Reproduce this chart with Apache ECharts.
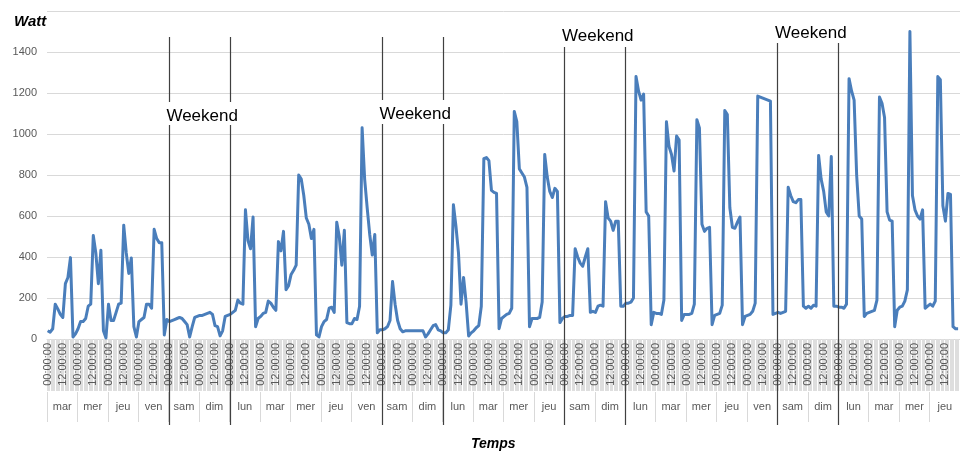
<!DOCTYPE html>
<html>
<head>
<meta charset="utf-8">
<script src="https://cdn.jsdelivr.net/npm/echarts@6/dist/echarts.min.js"></script>
<style>
  html, body { margin: 0; padding: 0; background: #fff; }
  #main { width: 960px; height: 453px; }
</style>
</head>
<body>
<div id="main"></div>
<script>
// day names of the lower axis row
var days = ['mar', 'mer', 'jeu', 'ven', 'sam', 'dim', 'lun',
            'mar', 'mer', 'jeu', 'ven', 'sam', 'dim', 'lun',
            'mar', 'mer', 'jeu', 'sam', 'dim', 'lun',
            'mar', 'mer', 'jeu', 'ven', 'sam', 'dim', 'lun',
            'mar', 'mer', 'jeu']

// watts read every 2 hours (00h, 02h ... 22h), one line per day
var watts = [
  40, 33, 50, 170, 147, 120, 105, 270, 300, 397, 10, 25,
  50, 85, 85, 100, 160, 170, 505, 420, 270, 433, 40, 5,
  170, 90, 90, 130, 170, 175, 555, 420, 320, 395, 60, 10,
  85, 95, 105, 170, 170, 150, 535, 490, 470, 470, 20, 95,
  85, 90, 95, 100, 105, 100, 85, 70, 10, 60, 105, 110,
  115, 115, 120, 125, 130, 120, 65, 60, 15, 40, 110, 115,
  120, 130, 140, 190, 175, 170, 630, 480, 440, 595, 60, 100,
  110, 125, 130, 185, 175, 155, 140, 475, 430, 525, 240, 260,
  315, 335, 360, 800, 780, 700, 590, 560, 490, 535, 20, 10,
  60, 85, 95, 150, 155, 130, 570, 500, 360, 530, 80, 75,
  75, 100, 95, 160, 1030, 780, 640, 510, 410, 510, 30, 45,
  45, 50, 60, 90, 280, 170, 90, 50, 35, 40, 40, 40,
  40, 40, 40, 40, 40, 10, 25, 45, 65, 70, 45, 40,
  30, 30, 45, 165, 655, 550, 420, 170, 300, 180, 15, 30,
  40, 55, 65, 160, 880, 885, 870, 725, 715, 710, 50, 100,
  110, 120, 125, 150, 1110, 1060, 830, 810, 790, 740, 60, 100,
  100, 100, 105, 180, 900, 790, 720, 690, 735, 720, 80, 100,
  110, 110, 115, 115, 440, 400, 370, 355, 400, 440, 130, 135,
  130, 160, 165, 160, 670, 590, 575, 530, 575, 575, 160, 160,
  175, 175, 180, 200, 1280, 1210, 1165, 1195, 620, 600, 70, 130,
  125, 125, 120, 190, 1060, 940, 900, 820, 990, 970, 90, 120,
  120, 120, 125, 170, 1070, 1030, 560, 525, 540, 545, 70, 115,
  120, 125, 165, 1115, 1095, 640, 545, 540, 570, 595, 70, 110,
  115, 120, 135, 175, 1185, 1180, 1175, 1170, 1165, 1160, 120, 125,
  130, 125, 130, 135, 740, 700, 670, 665, 680, 680, 160, 150,
  160, 150, 165, 160, 895, 780, 720, 620, 600, 890, 160, 160,
  155, 155, 150, 170, 1270, 1210, 1165, 800, 600, 585, 110, 125,
  130, 135, 140, 190, 1180, 1150, 1080, 620, 580, 575, 60, 140,
  155, 160, 185, 240, 1500, 700, 630, 600, 585, 630, 150, 160,
  170, 160, 185, 1280, 1265, 650, 575, 710, 705, 60, 50, 50
]

// y ticks
var yMin = 0, yMax = 1600, yStep = 200

// weekends: index of the saturday in days
var weekendStart = [4, 11, 17, 24]
var weekendText = 'Weekend'

var hours = []
days.forEach(function () {
  for (var h = 0; h < 24; h++) {
    hours.push((h < 10 ? '0' + h : '' + h) + ':00:00')
  }
})
var lineData = watts.map(function (v, i) { return [i * 2, v] })

var font = 'Liberation Sans, Arial, sans-serif'
var chart = echarts.init(document.getElementById('main'))
chart.setOption({
  backgroundColor: '#fff',
  animation: false,
  title: [{
    text: 'Watt', left: 9, top: 9,
    textStyle: { fontFamily: font, fontSize: 15, fontWeight: 'bold', fontStyle: 'italic', color: '#000' }
  }, {
    text: 'Temps', left: 466, top: 432,
    textStyle: { fontFamily: font, fontSize: 14, fontWeight: 'bold', fontStyle: 'italic', color: '#000' }
  }],
  grid: { left: 47, top: 11, width: 919, height: 328 },
  xAxis: [{
    type: 'category',
    data: hours,
    boundaryGap: true,
    axisLine: { show: true, lineStyle: { color: '#d9d9d9' } },
    axisTick: { show: true, interval: 0, length: 52, lineStyle: { color: '#dedede', width: 1 } },
    axisLabel: {
      interval: function (i) { return i % 12 === 0 },
      rotate: 90, margin: 4,
      fontFamily: font, fontSize: 11, color: '#595959'
    },
    splitLine: { show: false }
  }, {
    type: 'category',
    data: days,
    position: 'bottom',
    offset: 53,
    boundaryGap: true,
    axisLine: { show: false },
    axisTick: { show: true, interval: 0, length: 30, lineStyle: { color: '#d9d9d9' } },
    axisLabel: { interval: 0, margin: 9, fontFamily: font, fontSize: 11, color: '#595959' }
  }],
  yAxis: {
    type: 'value',
    min: yMin, max: yMax, interval: yStep,
    axisLine: { show: false },
    axisTick: { show: false },
    axisLabel: {
      margin: 10, fontFamily: font, fontSize: 11, color: '#595959',
      formatter: function (v) { return v === yMax ? '' : v }
    },
    splitLine: { lineStyle: { color: '#d9d9d9' } }
  },
  series: [{
    type: 'line',
    xAxisIndex: 0,
    data: lineData,
    showSymbol: false,
    lineStyle: { color: '#4a7ebb', width: 3, join: 'round' },
    itemStyle: { color: '#4a7ebb' }
  }]
})

// weekend separators placed from the day axis
function dayEdge(d) {
  var a = chart.convertToPixel({ xAxisIndex: 1 }, 0)
  var b = chart.convertToPixel({ xAxisIndex: 1 }, 1)
  return chart.convertToPixel({ xAxisIndex: 1 }, d) - (b - a) / 2
}
var textY = [116, 114, 36, 33]
var lineTop = [37, 37, 47, 43]
var gaps = [[102, 125], [100, 124], null, null]
var lineBottom = 425
var graphics = []
weekendStart.forEach(function (d, w) {
  var xs = [dayEdge(d), dayEdge(d + 2)]
  xs.forEach(function (x) {
    var segs = gaps[w] ? [[lineTop[w], gaps[w][0]], [gaps[w][1], lineBottom]] : [[lineTop[w], lineBottom]]
    segs.forEach(function (s) {
      graphics.push({
        type: 'line', silent: true, z: 10,
        shape: { x1: Math.round(x) + 0.5, y1: s[0], x2: Math.round(x) + 0.5, y2: s[1] },
        style: { stroke: '#404040', lineWidth: 1.2 }
      })
    })
  })
  graphics.push({
    type: 'text', silent: true, z: 11,
    x: (xs[0] + xs[1]) / 2 + 3, y: textY[w],
    style: {
      text: weekendText, fill: '#000', font: '17px ' + font,
      align: 'center', verticalAlign: 'middle'
    }
  })
})
chart.setOption({ graphic: graphics })
</script>
</body>
</html>
